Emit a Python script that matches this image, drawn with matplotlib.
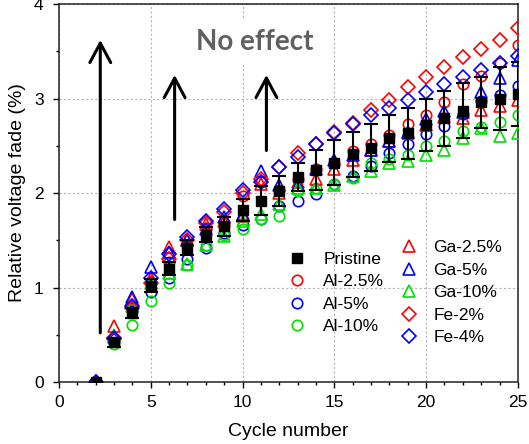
import matplotlib
matplotlib.use('Agg')
import matplotlib.pyplot as plt
from matplotlib.ticker import MultipleLocator

plt.rcParams['font.family'] = ['Liberation Sans', 'DejaVu Sans']

cycles = list(range(2, 26))

pristine = [0, 0.42, 0.73, 1.02, 1.20, 1.42, 1.56, 1.65, 1.82, 1.92, 2.02, 2.17,
            2.24, 2.32, 2.41, 2.48, 2.58, 2.63, 2.72, 2.79, 2.87, 2.96, 3.00, 3.05]
pristine_err = [0, 0.05, 0.05, 0.07, 0.07, 0.08, 0.08, 0.10, 0.12, 0.15, 0.16, 0.15,
                0.21, 0.24, 0.24, 0.25, 0.25, 0.27, 0.28, 0.29, 0.29, 0.27, 0.33, 0.34]

al_25 = [0, 0.45, 0.78, 1.05, 1.27, 1.45, 1.63, 1.68, 1.97, 2.12, 2.03, 2.15,
         2.25, 2.32, 2.44, 2.52, 2.61, 2.73, 2.83, 2.96, 3.15, 3.24, 3.38, 3.57]
al_5 = [0, 0.45, 0.75, 0.95, 1.10, 1.30, 1.42, 1.58, 1.66, 1.73, 1.86, 1.92,
        1.99, 2.10, 2.18, 2.29, 2.42, 2.52, 2.62, 2.71, 2.84, 2.97, 3.04, 3.13]
al_10 = [0, 0.40, 0.60, 0.86, 1.05, 1.24, 1.45, 1.56, 1.62, 1.72, 1.76, 2.02,
         2.05, 2.10, 2.16, 2.32, 2.36, 2.40, 2.50, 2.55, 2.66, 2.70, 2.75, 2.83]
ga_25 = [0, 0.59, 0.88, 1.10, 1.43, 1.50, 1.67, 1.70, 1.76, 2.10, 2.00, 2.12,
         2.15, 2.25, 2.35, 2.45, 2.55, 2.63, 2.72, 2.80, 2.79, 2.88, 2.92, 2.98]
ga_5 = [0, 0.48, 0.90, 1.22, 1.38, 1.50, 1.62, 1.75, 1.78, 2.23, 2.08, 2.08,
        2.25, 2.35, 2.40, 2.45, 2.55, 2.65, 2.78, 2.87, 2.86, 3.07, 3.22, 3.41]
ga_10 = [0, 0.50, 0.80, 1.05, 1.15, 1.25, 1.45, 1.55, 1.70, 1.78, 1.88, 2.05,
         2.05, 2.08, 2.18, 2.23, 2.32, 2.34, 2.40, 2.46, 2.58, 2.69, 2.60, 2.63]
fe_2 = [0, 0.45, 0.78, 1.05, 1.30, 1.50, 1.68, 1.80, 2.00, 2.15, 2.27, 2.42,
        2.52, 2.65, 2.74, 2.88, 2.98, 3.12, 3.23, 3.33, 3.44, 3.52, 3.62, 3.75]
fe_4 = [0, 0.47, 0.80, 1.10, 1.35, 1.53, 1.70, 1.83, 2.03, 2.12, 2.27, 2.38,
        2.52, 2.63, 2.73, 2.83, 2.90, 2.98, 3.07, 3.15, 3.23, 3.30, 3.38, 3.45]

red, blue, green = '#ff0000', '#0000ff', '#00e000'

fig = plt.figure(figsize=(5.29, 4.44), dpi=100)
ax = fig.add_axes([0.1115, 0.1396, 0.8675, 0.8514])

def open_pts(y, marker, color, label, ms=7.5):
    h, = ax.plot(cycles, y, linestyle='none', marker=marker, ms=ms,
                 mfc='none', mec=color, mew=1.2, label=label, zorder=3)
    return h

h_al25 = open_pts(al_25, 'o', red, 'Al-2.5%')
h_al5 = open_pts(al_5, 'o', blue, 'Al-5%')
h_al10 = open_pts(al_10, 'o', green, 'Al-10%')
h_ga25 = open_pts(ga_25, '^', red, 'Ga-2.5%', ms=8.5)
h_ga5 = open_pts(ga_5, '^', blue, 'Ga-5%', ms=8.5)
h_ga10 = open_pts(ga_10, '^', green, 'Ga-10%', ms=8.5)
h_fe2 = open_pts(fe_2, 'D', red, 'Fe-2%', ms=7.5)
h_fe4 = open_pts(fe_4, 'D', blue, 'Fe-4%', ms=7.5)

ax.errorbar(cycles, pristine, yerr=pristine_err, fmt='none', ecolor='black',
            elinewidth=1.5, capsize=5, capthick=1.5, zorder=4)
h_pr, = ax.plot(cycles, pristine, linestyle='none', marker='s', ms=7,
                color='black', label='Pristine', zorder=5)

ax.set_xlim(0, 25)
ax.set_ylim(0, 4)
ax.xaxis.set_major_locator(MultipleLocator(5))
ax.xaxis.set_minor_locator(MultipleLocator(1))
ax.yaxis.set_major_locator(MultipleLocator(1))
ax.yaxis.set_minor_locator(MultipleLocator(0.5))
ax.tick_params(which='major', direction='out', length=4, width=1,
               labelsize=12.5, pad=5)
ax.tick_params(axis='y', which='major', pad=7)
ax.tick_params(which='minor', direction='out', length=2.5, width=1)
for s in ax.spines.values():
    s.set_linewidth(1.1)
    s.set_color('#222222')
ax.grid(True, which='major', color='#b5b5b5', linestyle=(0, (2, 2)), lw=0.8)
ax.set_axisbelow(True)

ax.set_xlabel('Cycle number', fontsize=14, labelpad=10)
ax.set_ylabel('Relative voltage fade (%)', fontsize=14, labelpad=6)

# vertical arrows
for x, y0, y1 in [(2.25, 0.52, 3.62), (6.3, 1.72, 3.25), (11.3, 2.45, 3.25)]:
    ax.annotate('', xy=(x, y1), xytext=(x, y0),
                arrowprops=dict(arrowstyle='->,head_length=1.4,head_width=0.75',
                                lw=2.2, color='black', shrinkA=0, shrinkB=0,
                                mutation_scale=10), zorder=6)

ax.text(10.65, 3.6, 'No effect', fontsize=20, fontweight='bold', color='#606060',
        family=['Lato', 'DejaVu Sans'], ha='center', va='center', zorder=2,
        bbox=dict(boxstyle='square,pad=0.35', fc='white', ec='none'))

leg1 = ax.legend(handles=[h_pr, h_al25, h_al5, h_al10], loc='upper left',
                 bbox_to_anchor=(0.50, 0.345), frameon=False, fontsize=12.5,
                 handlelength=1.0, handletextpad=1.0, labelspacing=0.42,
                 borderpad=0, borderaxespad=0)
ax.add_artist(leg1)
ax.legend(handles=[h_ga25, h_ga5, h_ga10, h_fe2, h_fe4], loc='upper left',
          bbox_to_anchor=(0.744, 0.375), frameon=False, fontsize=12.5,
          handlelength=1.0, handletextpad=0.9, labelspacing=0.42,
          borderpad=0, borderaxespad=0)

fig.savefig('out.png', dpi=100)
